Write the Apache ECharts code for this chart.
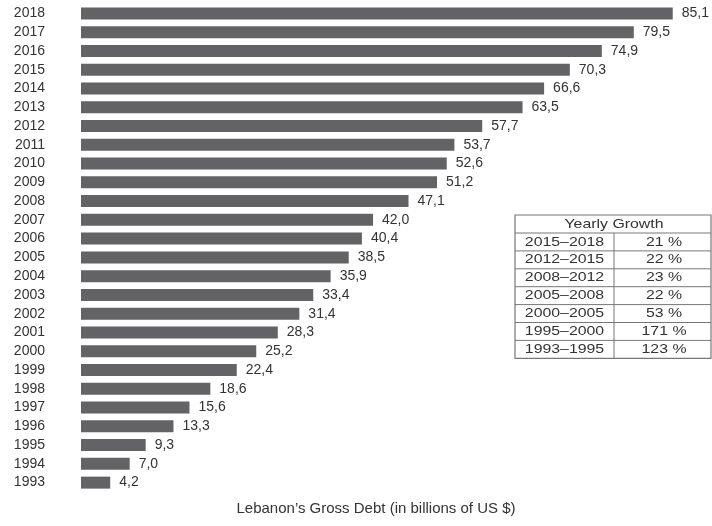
<!DOCTYPE html>
<html><head><meta charset="utf-8">
<script src="https://cdn.jsdelivr.net/npm/echarts@6/dist/echarts.min.js"></script>
<style>html,body{margin:0;padding:0;background:#fff}#c{width:712px;height:526px}</style>
</head><body><div id="c"></div>
<script>
const years = ['1993','1994','1995','1996','1997','1998','1999','2000','2001','2002','2003','2004','2005','2006','2007','2008','2009','2010','2011','2012','2013','2014','2015','2016','2017','2018'];
const debt = [4.2,7.0,9.3,13.3,15.6,18.6,22.4,25.2,28.3,31.4,33.4,35.9,38.5,40.4,42.0,47.1,51.2,52.6,53.7,57.7,63.5,66.6,70.3,74.9,79.5,85.1];
const tableTitle = 'Yearly Growth';
const tableRanges = ['2015–2018','2012–2015','2008–2012','2005–2008','2000–2005','1995–2000','1993–1995'];
const tableGrowth = ['21 %','22 %','23 %','22 %','53 %','171 %','123 %'];
const chartTitle = 'Lebanon’s Gross Debt (in billions of US $)';

const FONT = '"Liberation Sans", Arial, sans-serif';
const TXT = '#333';
const SX = 1.22;

// table graphic
const tx = 515, ty = 215, tw = 197, hh = 18, rh = 17.9, divX = 614;
const g = [];
const th = hh + rh * tableRanges.length;
g.push({type:'rect', shape:{x:tx, y:ty, width:tw-1, height:th}, style:{fill:'#fff', stroke:'#777', lineWidth:1.2}});
g.push({type:'text', x: 614, y: ty + hh/2, scaleX:SX, style:{text:tableTitle, font:'13px '+FONT, fill:TXT, align:'center', verticalAlign:'middle'}});
tableRanges.forEach((r,i)=>{
  const y0 = ty + hh + rh*i;
  g.push({type:'line', shape:{x1:tx, y1:y0, x2:tx+tw-1, y2:y0}, style:{stroke:'#777', lineWidth:1}});
  g.push({type:'text', x: 564.5, y: y0 + rh/2, scaleX:SX, style:{text:r, font:'13px '+FONT, fill:TXT, align:'center', verticalAlign:'middle'}});
  g.push({type:'text', x: 664, y: y0 + rh/2, scaleX:SX, style:{text:tableGrowth[i], font:'13px '+FONT, fill:TXT, align:'center', verticalAlign:'middle'}});
});
g.push({type:'line', shape:{x1:divX, y1:ty+hh, x2:divX, y2:ty+th}, style:{stroke:'#777', lineWidth:1}});

const chart = echarts.init(document.getElementById('c'));
chart.setOption({
  animation:false,
  backgroundColor:'#fff',
  title:{text:chartTitle, left:371, top:496, textAlign:'center', textStyle:{fontFamily:FONT, fontSize:15, fontWeight:'normal', color:TXT}},
  grid:{left:81, right:33, top:4, bottom:34, containLabel:false},
  xAxis:{type:'value', min:0, max:86, show:false},
  yAxis:{type:'category', data:years, axisLine:{show:false}, axisTick:{show:false},
    axisLabel:{fontFamily:FONT, fontSize:14, color:TXT, margin:36}},
  series:[{type:'bar', data:debt, barWidth:12, itemStyle:{color:'#636365'},
    label:{show:true, position:'right', distance:9, fontFamily:FONT, fontSize:14, color:TXT,
      formatter:p=>p.value.toFixed(1).replace('.',',')}}],
  graphic:g
});
</script></body></html>
